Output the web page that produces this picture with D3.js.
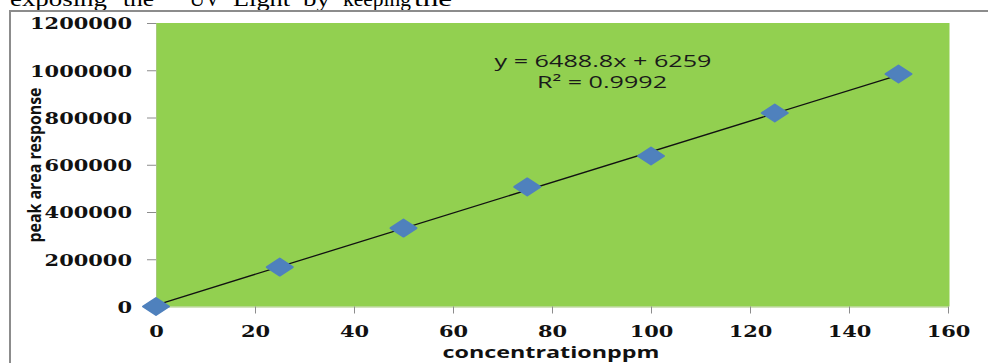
<!DOCTYPE html>
<html>
<head>
<meta charset="utf-8">
<script src="https://cdn.jsdelivr.net/npm/d3@7"></script>
<style>
  body { margin: 0; background: #fff; }
  svg { display: block; }
</style>
</head>
<body>
<script>
// calibration points
var concentration = [0, 25, 50, 75, 100, 125, 150];
var peakArea = [0, 167000, 332000, 506000, 637000, 819000, 984000];
var xTicks = [0, 20, 40, 60, 80, 100, 120, 140, 160];
var yTicks = [0, 200000, 400000, 600000, 800000, 1000000, 1200000];
var slope = 6488.8, intercept = 6259;
var eqText = "y = 6488.8x + 6259";
var r2Text = "R\u00b2 = 0.9992";
var topWords = ["exposing", "the", "\u201cUV", "Light", "by", "keeping", "the"];
var topWordX = [10, 123, 180, 233, 303, 343, 414];
var topWordW = [97, 31, 40, 57, 27, 68, 38];

var width = 988, height = 363;
var margin = ({ top: 23, right: 40, bottom: 56, left: 156 });
var sx = 1.27; // the source picture is stretched sideways

var svg = d3.select("body").append("svg")
    .attr("width", width)
    .attr("height", height);

// text line of the page above the chart, cut at the top
svg.append("g")
    .selectAll("text")
    .data(topWords)
    .enter()
    .append("text")
    .attr("x", (d, i) => topWordX[i])
    .attr("y", 6)
    .attr("textLength", (d, i) => topWordW[i])
    .attr("lengthAdjust", "spacingAndGlyphs")
    .attr("font-family", "Liberation Serif")
    .attr("font-size", 22)
    .attr("fill", "#000")
    .text(d => d);

// chart frame
svg.append("line")
    .attr("x1", 9).attr("x2", width)
    .attr("y1", 11).attr("y2", 11)
    .attr("stroke", "#8c8c8c").attr("stroke-width", 2);
svg.append("line")
    .attr("x1", 10).attr("x2", 10)
    .attr("y1", 10).attr("y2", height)
    .attr("stroke", "#8c8c8c").attr("stroke-width", 2);

var x = d3.scaleLinear()
    .domain([0, 160])
    .range([margin.left, 948]);

var y = d3.scaleLinear()
    .domain([0, 1200000])
    .range([306.5, margin.top]);

// plot area
svg.append("rect")
    .attr("x", x(0))
    .attr("y", y(1200000))
    .attr("width", x(160) - x(0) + 1.5)
    .attr("height", y(0) - y(1200000))
    .attr("fill", "#92d050");

var xAxis = g => g
    .attr("transform", `translate(0,${y(0)})`)
    .call(d3.axisBottom(x).tickValues(xTicks).tickSize(7).tickSizeOuter(0))
    .call(g => g.select(".domain").attr("stroke", "#a6c97a"))
    .call(g => g.selectAll(".tick line").attr("stroke", "#8c8c8c"))
    .call(g => g.selectAll(".tick text")
        .attr("y", 0).attr("dy", 0)
        .attr("transform", `translate(0,30.5) scale(${sx},1)`));

var yAxis = g => g
    .attr("transform", `translate(${x(0)},0)`)
    .call(d3.axisLeft(y).tickValues(yTicks).tickFormat(d3.format("d"))
        .tickSize(9).tickSizeOuter(0))
    .call(g => g.select(".domain").attr("stroke", "#a6c97a"))
    .call(g => g.selectAll(".tick line").attr("stroke", "#8c8c8c"))
    .call(g => g.selectAll(".tick text")
        .attr("x", -24 / sx).attr("dy", "0.36em")
        .attr("transform", `scale(${sx},1)`));

svg.append("g").call(xAxis);
svg.append("g").call(yAxis);

svg.selectAll(".tick text")
    .attr("font-family", "DejaVu Serif")
    .attr("font-weight", "bold")
    .attr("font-size", 16.5)
    .attr("fill", "#111");

// linear trendline
svg.append("line")
    .attr("x1", x(0)).attr("y1", y(intercept))
    .attr("x2", x(150)).attr("y2", y(slope * 150 + intercept))
    .attr("stroke", "#111")
    .attr("stroke-width", 1.3);

// diamond markers
svg.append("g")
    .attr("fill", "#4f81bd")
    .attr("stroke", "#4f81bd")
    .attr("stroke-width", 2)
    .attr("stroke-linejoin", "round")
    .selectAll("path")
    .data(concentration)
    .enter()
    .append("path")
    .attr("transform", (d, i) => `translate(${x(d)},${y(peakArea[i])})`)
    .attr("d", "M-13,0L0,-8.5L13,0L0,8.5Z");

// equation label
svg.append("text")
    .attr("x", 603).attr("y", 67)
    .attr("text-anchor", "middle")
    .attr("textLength", 217)
    .attr("lengthAdjust", "spacingAndGlyphs")
    .attr("font-family", "Open Sans")
    .attr("font-size", 17)
    .attr("fill", "#1a1a1a")
    .text(eqText);
svg.append("text")
    .attr("x", 602).attr("y", 88)
    .attr("text-anchor", "middle")
    .attr("textLength", 130)
    .attr("lengthAdjust", "spacingAndGlyphs")
    .attr("font-family", "Open Sans")
    .attr("font-size", 17)
    .attr("fill", "#1a1a1a")
    .text(r2Text);

// axis titles
svg.append("text")
    .attr("transform", "translate(41,165) rotate(-90)")
    .attr("text-anchor", "middle")
    .attr("textLength", 155)
    .attr("lengthAdjust", "spacingAndGlyphs")
    .attr("font-family", "Open Sans")
    .attr("font-weight", "bold")
    .attr("font-size", 17)
    .attr("fill", "#111")
    .text("peak area response");
svg.append("text")
    .attr("x", 551).attr("y", 358)
    .attr("text-anchor", "middle")
    .attr("textLength", 217)
    .attr("lengthAdjust", "spacingAndGlyphs")
    .attr("font-family", "Open Sans")
    .attr("font-weight", "bold")
    .attr("font-size", 16)
    .attr("fill", "#111")
    .text("concentrationppm");
</script>
</body>
</html>
